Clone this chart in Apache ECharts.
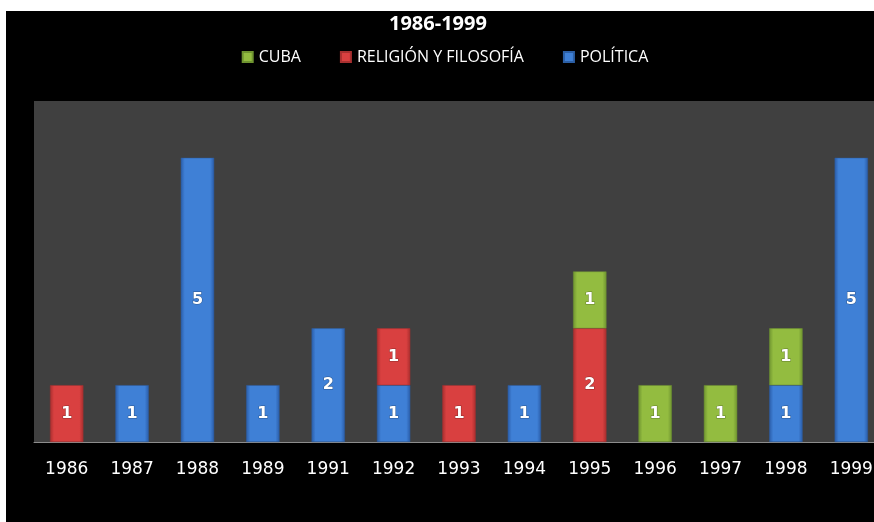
<!DOCTYPE html>
<html><head><meta charset="utf-8">
<script src="https://cdn.jsdelivr.net/npm/echarts@6/dist/echarts.min.js"></script>
<style>
html,body{margin:0;padding:0;background:#fff;overflow:hidden;width:874px;height:522px;}
#c{position:absolute;left:6px;top:11px;width:878px;height:511px;background:#000;}
</style></head><body>
<div id="c"></div>
<script>
const categories = ['1986','1987','1988','1989','1991','1992','1993','1994','1995','1996','1997','1998','1999'];
const politica = [null,1,5,1,2,1,null,1,null,null,null,1,5];
const religion = [1,null,null,null,null,1,1,null,2,null,null,null,null];
const cuba = [null,null,null,null,null,null,null,null,1,1,1,1,null];

function grad(edge, mid){
  return new echarts.graphic.LinearGradient(0,0,1,0,[
    {offset:0,color:edge},{offset:0.12,color:mid},{offset:0.88,color:mid},{offset:1,color:edge}]);
}
const lbl = {show:true,position:'inside',color:'#fff',fontWeight:'bold',fontSize:16,fontFamily:'DejaVu Sans',
  textBorderColor:'rgba(0,0,0,0.35)',textBorderWidth:1};
const chart = echarts.init(document.getElementById('c'));
chart.setOption({
  backgroundColor:'#000',
  animation:false,
  title:{text:'1986-1999',left:383,top:3,padding:0,
    textStyle:{color:'#fff',fontSize:20,fontWeight:'bold',fontFamily:'Open Sans'}},
  legend:{data:['CUBA','RELIGIÓN Y FILOSOFÍA','POLÍTICA'],top:38,left:'center',padding:0,itemWidth:10,itemHeight:10,itemGap:39,
    icon:'rect',textStyle:{color:'#fff',fontSize:16,fontFamily:'Open Sans',padding:[0,0,0,1]}},
  grid:{left:28,right:0,top:90,bottom:80,backgroundColor:'#404040',show:true,borderWidth:0},
  xAxis:{type:'category',data:categories,axisTick:{show:false},
    axisLine:{lineStyle:{color:'#8c8c8c',width:1}},
    axisLabel:{color:'#fff',fontSize:17,fontFamily:'DejaVu Sans',margin:19}},
  yAxis:{type:'value',min:0,max:6,interval:1,show:false,splitLine:{show:false}},
  series:[
    {name:'POLÍTICA',type:'bar',stack:'a',data:politica,barWidth:'51%',
      itemStyle:{color:grad('#2a5ca8','#3f80d6'),borderColor:'#2c5fa5',borderWidth:0.5},label:lbl},
    {name:'RELIGIÓN Y FILOSOFÍA',type:'bar',stack:'a',data:religion,
      itemStyle:{color:grad('#a82e2e','#d94040'),borderColor:'#a83030',borderWidth:0.5},label:lbl},
    {name:'CUBA',type:'bar',stack:'a',data:cuba,
      itemStyle:{color:grad('#6f9430','#93bc40'),borderColor:'#6f9430',borderWidth:0.5},label:lbl}
  ]
});
</script></body></html>
